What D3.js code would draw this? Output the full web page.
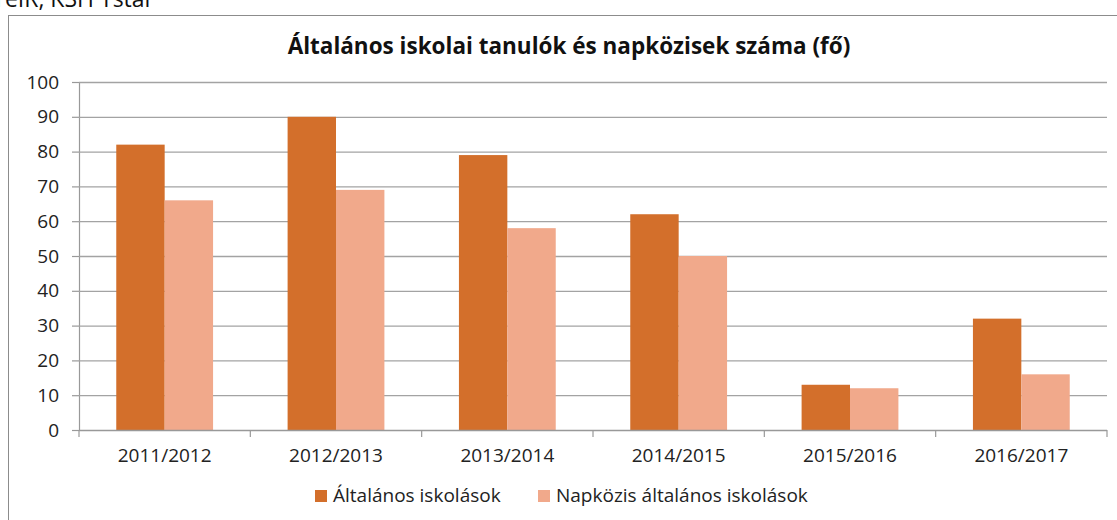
<!DOCTYPE html>
<html>
<head>
<meta charset="utf-8">
<script src="https://cdn.jsdelivr.net/npm/d3@7/dist/d3.min.js"></script>
<style>
  body { margin: 0; background: #fff; }
  svg { display: block; font-family: "Open Sans", "Noto Sans", sans-serif; }
  .tick text { fill: #222; }
</style>
</head>
<body>
<svg width="1117" height="520"></svg>
<script>
const years = ['2011/2012', '2012/2013', '2013/2014', '2014/2015', '2015/2016', '2016/2017'];
const series = ['Általános iskolások', 'Napközis általános iskolások'];
const pupils = [82, 90, 79, 62, 13, 32];
const dayCare = [66, 69, 58, 50, 12, 16];
const yTicks = [0, 10, 20, 30, 40, 50, 60, 70, 80, 90, 100];
const colors = ['#D36F2B', '#F1A98B'];

const svg = d3.select('svg');
const width = +svg.attr('width');
const height = +svg.attr('height');

// source line, cut off at the top
svg.append('text')
  .attr('x', 154).attr('y', 7)
  .attr('text-anchor', 'end')
  .attr('font-size', 23)
  .attr('fill', '#111')
  .text('TeIR, KSH Tstar');

// chart frame
svg.append('rect')
  .attr('x', 8.5).attr('y', 15.5)
  .attr('width', 1130).attr('height', 520)
  .attr('fill', 'none')
  .attr('stroke', '#8c8c8c');

const margin = {top: 82, right: 10, bottom: 90, left: 79};
const innerWidth = width - margin.left - margin.right;
const innerHeight = height - margin.top - margin.bottom;

const g = svg.append('g')
  .attr('transform', `translate(${margin.left},${margin.top})`);

const xScale = d3.scaleBand()
  .domain(years)
  .range([0, innerWidth])
  .paddingInner(0)
  .paddingOuter(0);

const x1 = d3.scaleBand()
  .domain(series)
  .range([0, xScale.bandwidth()])
  .paddingInner(0)
  .paddingOuter(0.77);

const yScale = d3.scaleLinear()
  .domain([0, 100])
  .range([innerHeight, 0]);

const yAxis = d3.axisLeft(yScale)
  .tickValues(yTicks)
  .tickSize(7)
  .tickPadding(13);

const yAxisG = g.append('g').call(yAxis);
yAxisG.selectAll('.domain').attr('stroke', '#999').attr('stroke-width', 1.2);
yAxisG.selectAll('.tick line').attr('stroke', '#999').attr('stroke-width', 1.2);
yAxisG.selectAll('.tick text').attr('font-size', 19).attr('font-family', '"Open Sans", sans-serif');

// gridlines
g.append('g')
  .selectAll('line').data(yTicks.filter(d => d > 0))
  .enter().append('line')
    .attr('x1', 0).attr('x2', innerWidth)
    .attr('y1', d => yScale(d) + 0.5).attr('y2', d => yScale(d) + 0.5)
    .attr('stroke', '#a3a3a3')
    .attr('stroke-width', 1.3);

const rows = years.map((y, i) => ({year: y, values: [pupils[i], dayCare[i]]}));

g.append('g').selectAll('g').data(rows)
  .enter().append('g')
    .attr('transform', d => `translate(${xScale(d.year)},0)`)
  .selectAll('rect').data(d => d.values.map((v, j) => ({key: series[j], value: v, j})))
  .enter().append('rect')
    .attr('x', d => x1(d.key))
    .attr('width', x1.bandwidth())
    .attr('y', d => yScale(d.value))
    .attr('height', d => innerHeight - yScale(d.value))
    .attr('fill', d => colors[d.j]);

// x axis with ticks between categories
const xAxisG = g.append('g')
  .attr('transform', `translate(0,${innerHeight})`);
xAxisG.append('line')
  .attr('x1', 0).attr('x2', innerWidth)
  .attr('y1', 0.5).attr('y2', 0.5)
  .attr('stroke', '#999').attr('stroke-width', 1.3);
xAxisG.selectAll('.sep').data(years.concat(['end']))
  .enter().append('line')
    .attr('class', 'sep')
    .attr('x1', (d, i) => i * xScale.step())
    .attr('x2', (d, i) => i * xScale.step())
    .attr('y1', 0).attr('y2', 7)
    .attr('stroke', '#999').attr('stroke-width', 1.2);
xAxisG.selectAll('.lbl').data(years)
  .enter().append('text')
    .attr('class', 'lbl')
    .attr('x', d => xScale(d) + xScale.bandwidth() / 2)
    .attr('y', 32)
    .attr('text-anchor', 'middle')
    .attr('font-size', 19)
    .attr('fill', '#222')
    .text(d => d);

// title
svg.append('text')
  .attr('x', 569).attr('y', 54)
  .attr('text-anchor', 'middle')
  .attr('font-size', 22.5)
  .attr('font-weight', 'bold')
  .attr('fill', '#111')
  .text('Általános iskolai tanulók és napközisek száma (fő)');

// legend
const legendX = [315, 538];
const legend = svg.append('g');
series.forEach((s, i) => {
  legend.append('rect')
    .attr('x', legendX[i]).attr('y', 490)
    .attr('width', 12).attr('height', 12)
    .attr('fill', colors[i]);
  legend.append('text')
    .attr('x', legendX[i] + 18).attr('y', 502)
    .attr('font-size', 19)
    .attr('fill', '#222')
    .text(s);
});
</script>
</body>
</html>
